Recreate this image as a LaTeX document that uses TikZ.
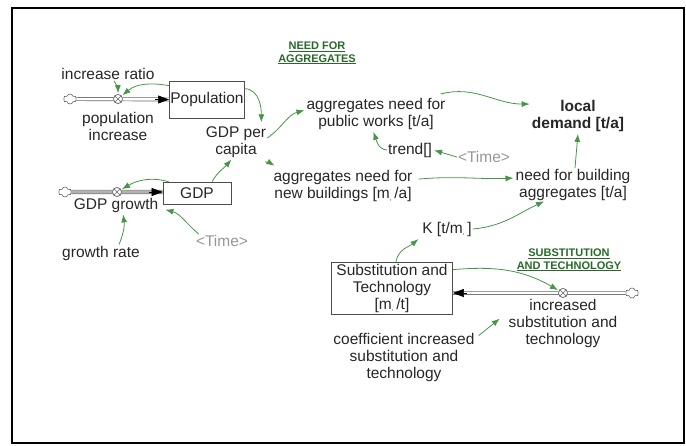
\documentclass[tikz,border=0pt]{standalone}
\usepackage{fontspec}
\setmainfont{Liberation Sans}
\usetikzlibrary{arrows.meta,shapes.symbols,calc}
\definecolor{arrg}{RGB}{70,150,70}
\definecolor{titg}{RGB}{40,105,40}
\definecolor{tgray}{RGB}{150,150,150}
\newcommand{\mcomma}{m\raisebox{-1.5pt}{\scriptsize,}\,}
\begin{document}
\begin{tikzpicture}[x=1pt,y=-1pt,
  txt/.style={font=\fontsize{15.5}{17}\selectfont, align=center, inner sep=1pt, text=black!85},
  txtb/.style={txt, font=\fontsize{15.5}{17}\selectfont\bfseries},
  graytxt/.style={txt, text=tgray},
  titl/.style={font=\fontsize{11}{12.5}\selectfont\bfseries, text=titg, align=center, inner sep=1pt},
  box/.style={draw=black!70, line width=0.7pt, font=\fontsize{15.5}{17}\selectfont, align=center, inner sep=1pt, text=black!85},
  valvesym/.style={circle, draw=black!60, line width=0.6pt, minimum size=9pt, inner sep=0pt, fill=white,
     path picture={\draw[black!60, line width=0.5pt] (path picture bounding box.north west) -- (path picture bounding box.south east) (path picture bounding box.north east) -- (path picture bounding box.south west);}},
  cloudsym/.style={cloud, cloud puffs=6, aspect=1.3, draw=black!60, line width=0.6pt, fill=white, minimum width=13pt, minimum height=10pt, inner sep=0pt},
  ga/.style={draw=arrg, line width=0.8pt, -{Latex[length=8pt,width=6pt]}, shorten >=1pt},
  pipew/.style={draw=black!60, line width=0.7pt, double=white, double distance=2.5pt},
  pipeg/.style={draw=black!50, line width=0.7pt, double=black!30, double distance=3pt},
  ptip/.style={draw=black, line width=0.6pt, -{Triangle[length=11pt,width=8pt]}}
]
\useasboundingbox (0,0) rectangle (686,446);
\draw[line width=2pt] (12,8) rectangle (684,443);

% ---- population ----
\node[txt] (ir) at (108,74) {increase ratio};
\node[box, minimum width=74pt, minimum height=37pt] (pop) at (207,99.5) {Population};
\node[cloudsym] (c1) at (70,99) {};
\node[valvesym] (v1) at (118,99) {};
\node[txt] (pi) at (118,126) {population\\increase};
\node[txt] (gpc) at (236,142) {GDP per\\capita};

% ---- titles ----
\node[titl] (t1) at (317,53) {\underline{NEED FOR}\\\underline{AGGREGATES}};
\node[titl] (t2) at (569,260) {\underline{SUBSTITUTION}\\\underline{AND TECHNOLOGY}};

% ---- need for aggregates ----
\node[txt] (pw) at (376,114) {aggregates need for\\public works [t/a]};
\node[txtb] (ld) at (578,116) {local\\demand [t/a]};
\node[txt] (tr) at (410,150) {trend[]};
\node[graytxt] (tm1) at (484,157) {<Time>};
\node[txt] (nb) at (343,186) {aggregates need for\\new buildings [\mcomma/a]};
\node[txt] (nba) at (573,185) {need for building\\aggregates [t/a]};

% ---- GDP ----
\node[box, minimum width=68pt, minimum height=22pt] (gdp) at (197,193) {GDP};
\node[cloudsym] (c2) at (65,192) {};
\node[valvesym] (v2) at (117,192) {};
\node[txt] (gg) at (116,205) {GDP growth};
\node[txt] (gr) at (101,253) {growth rate};
\node[graytxt] (tm2) at (222,241) {<Time>};

% ---- substitution ----
\node[txt] (k) at (447,229) {K [t/\mcomma]};
\node[box, minimum width=121pt, minimum height=52pt] (st) at (392,288) {Substitution and\\Technology\\{}[\mcomma/t]};
\node[valvesym] (v3) at (563,293) {};
\node[cloudsym] (c3) at (632,293) {};
\node[txt] (ist) at (563,323) {increased\\substitution and\\technology};
\node[txt] (cis) at (404,357) {coefficient increased\\substitution and\\technology};

% ---- pipes ----
\draw[pipew] (c1.east) -- (pop.west);
\draw[ptip] ([xshift=-14pt]pop.west) -- (pop.west);
\node[valvesym] at (v1) {};
\draw[pipeg] (c2.east) -- (gdp.west |- c2);
\draw[ptip] ([xshift=-14pt]gdp.west |- c2) -- (gdp.west |- c2);
\node[valvesym] at (v2) {};
\draw[pipew] (c3.west) -- (st.east |- c3);
\draw[ptip] ([xshift=14pt]st.east |- c3) -- (st.east |- c3);
\node[valvesym] at (v3) {};

% ---- green arrows ----
\draw[ga] ([xshift=6pt]ir.south) to[bend left=15] (v1);
\draw[ga] ([yshift=-5pt]pop.north west) to[out=170,in=40] (v1);
\draw[ga] ([yshift=-8pt]pop.north east) to[out=-5,in=90] ([xshift=-6pt,yshift=2pt]gpc.north east);
\draw[ga] ([yshift=4pt]gpc.east) to[out=35,in=195] ([yshift=4pt]pw.west);
\draw[ga] ([xshift=-2pt,yshift=-3pt]gpc.south east) to[out=-30,in=150] ([xshift=3pt,yshift=3pt]nb.north west);
\draw[ga] ([xshift=-6pt,yshift=3pt]pw.north east) to[out=15,in=180] ([yshift=-5pt]ld.north west);
\draw[ga] (tr.west) to[out=175,in=-70] ([xshift=-3pt]pw.south);
\draw[ga] (tm1.west) -- (tr.east);
\draw[ga] ([xshift=5pt,yshift=-10pt]nb.north east) to[out=5,in=182] ([yshift=-10pt]nba.north west);
\draw[ga] ([xshift=2pt]nba.north) -- (ld.south);
\draw[ga] ([xshift=6pt]gdp.north west) to[out=165,in=30] (v2);
\draw[ga] ([xshift=15pt]gdp.north) to[out=60,in=-130] ([xshift=-4pt]gpc.south);
\draw[ga] ([xshift=18pt]gr.north) to[bend right=15] ([xshift=7pt]gg.south);
\draw[ga] ([xshift=4pt]tm2.north west) to[out=140,in=-15] ([xshift=5pt,yshift=4pt]gg.south east);
\draw[ga] ([xshift=4pt]st.north) to[out=80,in=-140] ([xshift=-2pt,yshift=-1pt]k.south west);
\draw[ga] (k.east) to[out=5,in=-155] ([xshift=-28pt,yshift=1pt]nba.south);
\draw[ga] ([yshift=-8pt]st.north east) to[out=5,in=150] (v3);
\draw[ga] ([xshift=3pt,yshift=-4pt]cis.north east) -- ([xshift=-7pt,yshift=5pt]ist.west);
\end{tikzpicture}
\end{document}
